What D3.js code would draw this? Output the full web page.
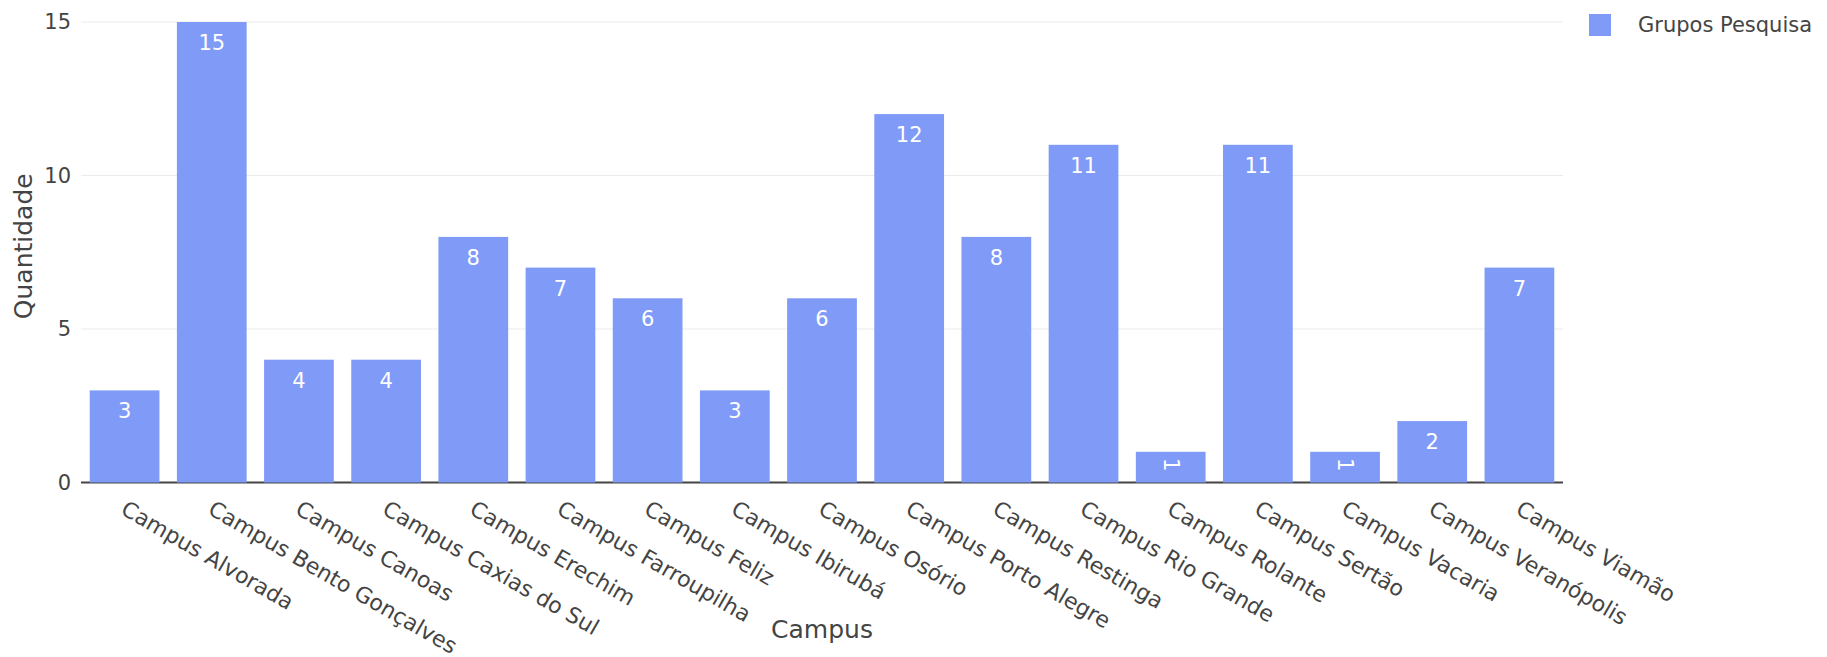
<!DOCTYPE html>
<html>
<head>
<meta charset="utf-8">
<script src="https://cdn.jsdelivr.net/npm/d3@7"></script>
<style>
  html, body { margin: 0; padding: 0; background: #fff; }
  svg { display: block; font-family: "DejaVu Sans", Verdana, sans-serif; }
</style>
</head>
<body>
<svg id="chart" width="1827" height="657"></svg>
<script>
const categories = ["Campus Alvorada", "Campus Bento Gonçalves", "Campus Canoas", "Campus Caxias do Sul",
  "Campus Erechim", "Campus Farroupilha", "Campus Feliz", "Campus Ibirubá", "Campus Osório",
  "Campus Porto Alegre", "Campus Restinga", "Campus Rio Grande", "Campus Rolante", "Campus Sertão",
  "Campus Vacaria", "Campus Veranópolis", "Campus Viamão"];
const values = [3, 15, 4, 4, 8, 7, 6, 3, 6, 12, 8, 11, 1, 11, 1, 2, 7];
const yTicks = [0, 5, 10, 15];
const seriesName = "Grupos Pesquisa";
const xTitle = "Campus";
const yTitle = "Quantidade";

const svg = d3.select("#chart");
const m = { left: 81, right: 1563, top: 22, bottom: 482.5 };
const barColor = "#7f9bf7";
const textColor = "#444";

const x = d3.scaleBand().domain(categories).range([m.left, m.right]).paddingInner(0.2).paddingOuter(0.1);
const y = d3.scaleLinear().domain([0, 15]).range([m.bottom, m.top]);

// gridlines
svg.append("g").selectAll("line").data(yTicks.filter(d => d !== 0)).join("line")
  .attr("x1", m.left).attr("x2", m.right)
  .attr("y1", d => y(d)).attr("y2", d => y(d))
  .attr("stroke", "#ebebeb").attr("stroke-width", 1);

// y tick labels
const yAxis = d3.axisLeft(y).tickValues(yTicks).tickSize(0).tickPadding(10);
const gy = svg.append("g").attr("transform", `translate(${m.left},0)`).call(yAxis);
gy.select(".domain").remove();
gy.selectAll("text").attr("font-size", 21).attr("fill", textColor)
  .attr("font-family", "DejaVu Sans, Verdana, sans-serif");

// x axis line
svg.append("line").attr("x1", m.left).attr("x2", m.right)
  .attr("y1", y(0)).attr("y2", y(0)).attr("stroke", "#444").attr("stroke-width", 2);

// bars
svg.append("g").selectAll("rect").data(values).join("rect")
  .attr("x", (d, i) => x(categories[i]))
  .attr("width", x.bandwidth())
  .attr("y", d => y(d))
  .attr("height", d => y(0) - y(d))
  .attr("fill", barColor);

// bar labels
const lab = svg.append("g").selectAll("text").data(values).join("text")
  .attr("fill", "#fff").attr("font-size", 21)
  .attr("text-anchor", "middle")
  .text(d => d);
lab.each(function(d, i) {
  const cx = x(categories[i]) + x.bandwidth() / 2;
  const top = y(d);
  const h = y(0) - top;
  const t = d3.select(this);
  if (h < 40) {
    t.attr("dominant-baseline", "central")
     .attr("transform", `translate(${cx},${top + 13}) rotate(90)`);
  } else {
    t.attr("x", cx).attr("y", top + 28);
  }
});

// x tick labels (rotated 30deg)
const xAxis = d3.axisBottom(x).tickSize(0).tickPadding(0);
const gx = svg.append("g").attr("transform", `translate(0,${m.bottom})`).call(xAxis);
gx.select(".domain").remove();
gx.selectAll("text")
  .attr("font-size", 22).attr("fill", textColor)
  .attr("font-family", "DejaVu Sans, Verdana, sans-serif")
  .attr("text-anchor", "start")
  .attr("y", 0).attr("dy", 0)
  .attr("transform", "translate(3,17) rotate(30)")
  .attr("dominant-baseline", "hanging");

// axis titles
svg.append("text").attr("x", (m.left + m.right) / 2).attr("y", 638)
  .attr("text-anchor", "middle").attr("font-size", 25).attr("fill", textColor).text(xTitle);
svg.append("text")
  .attr("transform", `translate(32,${(m.top + m.bottom) / 2 - 6}) rotate(-90)`)
  .attr("text-anchor", "middle").attr("font-size", 25).attr("fill", textColor).text(yTitle);

// legend
const lg = svg.append("g").attr("transform", "translate(1589,14)");
lg.append("rect").attr("width", 22).attr("height", 22).attr("fill", barColor);
lg.append("text").attr("x", 49).attr("y", 11).attr("dominant-baseline", "central")
  .attr("font-size", 21).attr("fill", textColor).text(seriesName);
</script>
</body>
</html>
